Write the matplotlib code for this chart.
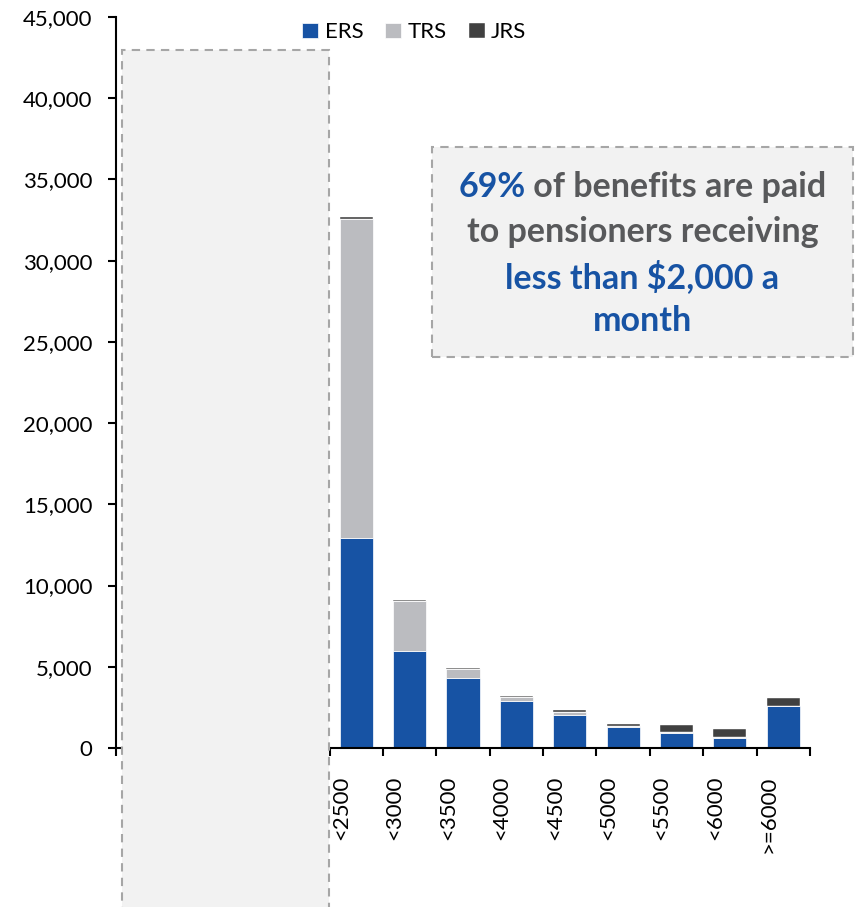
import matplotlib
matplotlib.use("Agg")
import matplotlib.pyplot as plt
from matplotlib.patches import Rectangle
from matplotlib.ticker import FuncFormatter, FixedLocator

# Data (monthly benefit brackets, visible part)
categories = ["<2500", "<3000", "<3500", "<4000", "<4500", "<5000", "<5500", "<6000", ">=6000"]
ers = [12950, 6000, 4290, 2900, 2050, 1310, 920, 640, 2590]
trs = [19610, 3070, 560, 220, 190, 60, 60, 50, 0]
jrs = [100, 60, 60, 70, 100, 100, 430, 480, 490]

blue = "#1753A4"
light = "#BBBCC0"
dark = "#404040"
txt_gray = "#58595B"

plt.rcParams["font.family"] = ["Lato", "DejaVu Sans"]

fig = plt.figure(figsize=(8.56, 9.07), dpi=100)
ax = fig.add_axes([116 / 856, 1 - 748 / 907, (810 - 116) / 856, (748 - 17) / 907])

x = list(range(len(categories)))
bottom2 = [a + b for a, b in zip(ers, trs)]
w = 0.62
ax.bar(x, ers, width=w, color=blue, edgecolor="white", linewidth=0.5, label="ERS")
ax.bar(x, trs, width=w, bottom=ers, color=light, edgecolor="white", linewidth=0.5, label="TRS")
ax.bar(x, jrs, width=w, bottom=bottom2, color=dark, edgecolor="white", linewidth=0.3, label="JRS")

ax.set_xlim(-4.5, 8.5)
ax.set_ylim(0, 45000)
ax.set_yticks(range(0, 45001, 5000))
ax.yaxis.set_major_formatter(FuncFormatter(lambda v, p: f"{int(v):,}"))
ax.tick_params(axis="y", length=6, width=1.5, pad=11, labelsize=16)

# category labels sit left of bar centre, tick marks at category boundaries
ax.set_xticks([i - 0.28 for i in x])
ax.set_xticklabels(categories, rotation=90, fontsize=16)
ax.tick_params(axis="x", which="major", length=0, pad=20)
ax.xaxis.set_minor_locator(FixedLocator([i - 0.5 for i in range(-4, 10)]))
ax.tick_params(axis="x", which="minor", length=6, width=1.5)

for s in ["top", "right"]:
    ax.spines[s].set_visible(False)
for s in ["left", "bottom"]:
    ax.spines[s].set_linewidth(1.5)

ax.legend(loc="upper center", bbox_to_anchor=(0.43, 1.02), ncol=3, frameon=False,
          fontsize=16, handlelength=0.7, handleheight=0.7, handletextpad=0.3,
          columnspacing=1.0)

# grey mask box over the lower brackets
fig.add_artist(Rectangle((122 / 856, -0.05), (329 - 122) / 856, 1.05 - 50 / 907,
                         transform=fig.transFigure, facecolor="#F2F2F2",
                         edgecolor="#A6A6A6", linewidth=1.5, linestyle=(0, (4, 3)),
                         zorder=5))

# callout box
fig.add_artist(Rectangle((432 / 856, 1 - 357 / 907), (853 - 432) / 856, (357 - 147) / 907,
                         transform=fig.transFigure, facecolor="#F2F2F2",
                         edgecolor="#A6A6A6", linewidth=1.5, linestyle=(0, (4, 3)),
                         zorder=5))

cx = 642.5 / 856
fs = 24.5
lines_y = [187, 232, 277, 321]
renderer = fig.canvas.get_renderer()
t1 = fig.text(0, 1 - lines_y[0] / 907, "69%", color=blue, fontsize=fs, fontweight="bold",
              va="center", ha="left", zorder=6)
t2 = fig.text(0, 1 - lines_y[0] / 907, " of benefits are paid", color=txt_gray, fontsize=fs,
              fontweight="bold", va="center", ha="left", zorder=6)
w1 = t1.get_window_extent(renderer).width / (856)
w2 = t2.get_window_extent(renderer).width / (856)
start = cx - (w1 + w2) / 2
t1.set_x(start)
t2.set_x(start + w1)
fig.text(cx, 1 - lines_y[1] / 907, "to pensioners receiving", color=txt_gray, fontsize=fs,
         fontweight="bold", va="center", ha="center", zorder=6)
fig.text(cx, 1 - lines_y[2] / 907, "less than $2,000 a", color=blue, fontsize=fs,
         fontweight="bold", va="center", ha="center", zorder=6)
fig.text(cx, 1 - lines_y[3] / 907, "month", color=blue, fontsize=fs,
         fontweight="bold", va="center", ha="center", zorder=6)

fig.savefig("out.png", dpi=100)
